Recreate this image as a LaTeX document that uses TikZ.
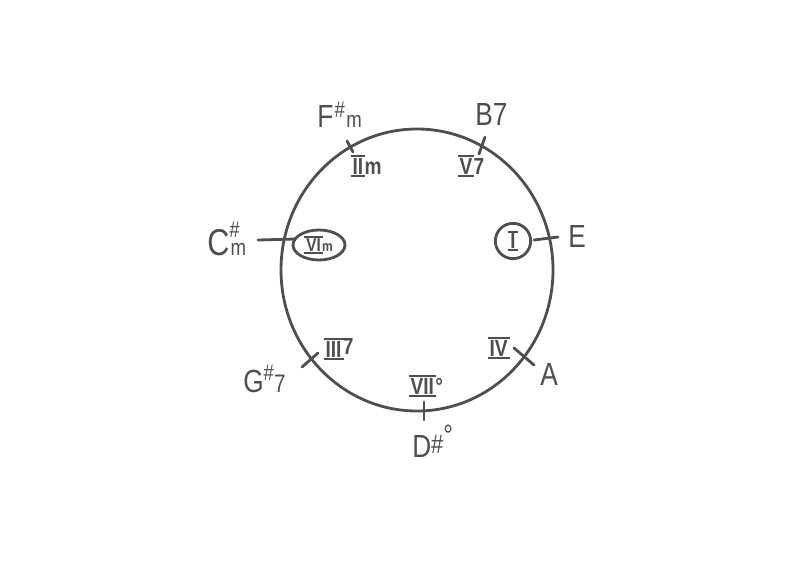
\documentclass[tikz,border=0pt]{standalone}
\usepackage{fontspec}
\setmainfont{Liberation Sans}[FakeStretch=0.82]
\usetikzlibrary{shapes.geometric}
\definecolor{ink}{HTML}{4E4E4E}
\newcommand\sm{\fontsize{17}{17}\selectfont}
\newcommand\rn[1]{\setbox0=\hbox{#1}\kern1pt\rlap{\kern-1.5pt\rule[-2pt]{\dimexpr\wd0+3pt\relax}{1.5pt}}\rlap{\kern-1.5pt\rule[\dimexpr\ht0+0.5pt\relax]{\dimexpr\wd0+3pt\relax}{1.5pt}}\box0\kern1pt}
\newcommand\supsub[2]{\rlap{\raisebox{13pt}{\sm#1}}{\kern1pt\sm#2}}
\tikzset{
  ink/.style={draw=ink, line width=2.1pt, line cap=round},
  chord/.style={text=ink, inner sep=0pt, anchor=base west, font=\fontsize{24}{24}\selectfont},
  roman/.style={text=ink, inner sep=0pt, anchor=base west, font=\bfseries\fontsize{17.5}{17.5}\selectfont},
}
\begin{document}
\begin{tikzpicture}[x=0.75pt,y=-0.75pt]
\useasboundingbox (0,0) rectangle (798,572);
% hand-drawn circle
\node[ink, ellipse, minimum width=204pt, minimum height=211.5pt, inner sep=0pt] (ring) at (417,270) {};
% ticks
\draw[ink] (347,141) -- (353,152);
\draw[ink] (479,154) -- (485,137);
\draw[ink] (534,240) -- (558,237);
\draw[ink] (514,348) -- (534,365);
\draw[ink] (424,402) -- (424,420);
\draw[ink] (302,367) -- (318,353);
\draw[ink] (258,240) -- (295,239);
% chord names
\node[chord] (fsm) at (317,127) {F\kern1pt\raisebox{7pt}{\sm\#}\kern1pt{\sm m}};
\node[chord] (b7) at (475,125) {B7};
\node[chord] (e) at (568,247) {E};
\node[chord] (a) at (540,385) {A};
\node[chord] (dsd) at (412,457) {D\raisebox{3pt}{\fontsize{20}{20}\selectfont\#}\raisebox{9pt}{\fontsize{22}{22}\selectfont°}};
\node[chord] (gs7) at (243,392) {G\raisebox{9pt}{\sm\#}{\fontsize{19}{19}\selectfont 7}};
\node[chord, font=\fontsize{28}{28}\selectfont] (csm) at (207,255) {C\supsub{\#}{m}};
% roman numerals
\node[roman] (iim) at (351,174) {\rn{II}m};
\node[roman] (v7) at (458,174) {\rn{V}7};
\node[roman] (iv) at (488,356) {\rn{IV}};
\node[roman] (vii) at (409,394) {\rn{VII}°};
\node[roman] (iii7) at (324,357) {\rn{III}\raisebox{2pt}{7}};
\node[ink, circle, minimum size=26.5pt, inner sep=0pt, text=ink,
      font=\bfseries\fontsize{17}{17}\selectfont] (one) at (513,241) {\rn{I}};
\node[ink, ellipse, minimum width=39pt, minimum height=22.5pt, inner sep=0pt, text=ink,
      font=\bfseries\fontsize{14}{14}\selectfont] (six) at (319,245) {\rn{VI}{\fontsize{11}{11}\selectfont m}};
\end{tikzpicture}
\end{document}
